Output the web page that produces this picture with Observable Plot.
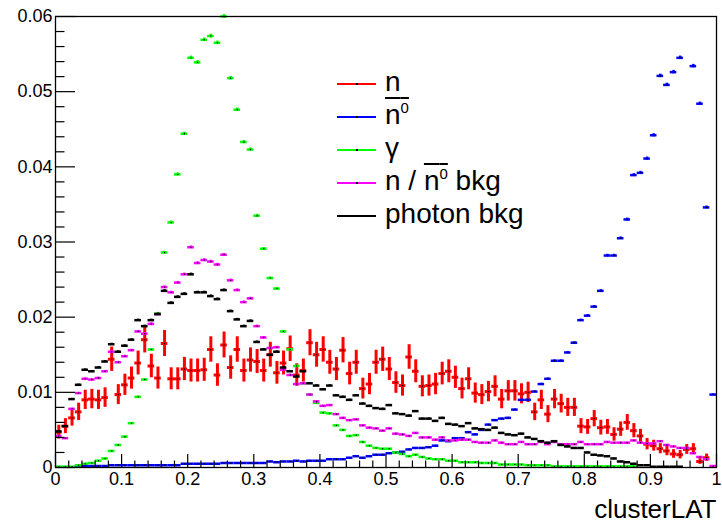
<!DOCTYPE html>
<html>
<head>
<meta charset="utf-8">
<script src="https://cdn.jsdelivr.net/npm/d3@7"></script>
<script src="https://cdn.jsdelivr.net/npm/@observablehq/plot@0.6"></script>
<style>
  body { margin: 0; background: #fff; font-family: "Liberation Sans", Arial, Helvetica, sans-serif; }
  #wrap { position: relative; width: 722px; height: 527px; }
  #legend { position: absolute; left: 337px; top: 67px; }
  .row { display: flex; align-items: center; height: 33px; }
  .sw { width: 39px; height: 2px; margin-right: 9px; position: relative; }
  .sw::after { content: ""; position: absolute; left: 19px; top: 0; width: 2px; height: 2px; background: #000; }
  .lab { font-size: 28px; line-height: 33px; color: #000; white-space: nowrap; position: relative; top: -2px; }
  .ov { text-decoration: overline; text-decoration-thickness: 2px; }
  .ov sup { font-size: 15px; line-height: 0; vertical-align: 11px; }
</style>
</head>
<body>
<div id="wrap">
  <div id="legend">
    <div class="row"><div class="sw" style="background:#ff0000"></div><span class="lab">n</span></div>
    <div class="row"><div class="sw" style="background:#0000ff"></div><span class="lab"><span class="ov">n<sup>0</sup></span></span></div>
    <div class="row"><div class="sw" style="background:#00ff00"></div><span class="lab">γ</span></div>
    <div class="row"><div class="sw" style="background:#ff00ff"></div><span class="lab">n / <span class="ov">n<sup>0</sup></span> bkg</span></div>
    <div class="row"><div class="sw" style="background:#000000"></div><span class="lab">photon bkg</span></div>
  </div>
</div>
<script>
// clusterLAT distributions, 100 bins on [0, 1], each normalised to unit area

const nBins = 100;

const neutron = [
  0.0047, 0.0055, 0.0066, 0.0074, 0.0090, 0.0091, 0.0090, 0.0093, 0.0144, 0.0097,
  0.0110, 0.0119, 0.0139, 0.0170, 0.0135, 0.0119, 0.0165, 0.0118, 0.0118, 0.0131,
  0.0129, 0.0129, 0.0130, 0.0157, 0.0123, 0.0163, 0.0133, 0.0157, 0.0129, 0.0143,
  0.0141, 0.0129, 0.0150, 0.0126, 0.0139, 0.0158, 0.0123, 0.0129, 0.0166, 0.0150,
  0.0157, 0.0140, 0.0131, 0.0156, 0.0125, 0.0140, 0.0105, 0.0111, 0.0140, 0.0144,
  0.0131, 0.0113, 0.0109, 0.0147, 0.0128, 0.0108, 0.0109, 0.0111, 0.0125, 0.0128,
  0.0120, 0.0105, 0.0118, 0.0099, 0.0097, 0.0101, 0.0108, 0.0091, 0.0102, 0.0102,
  0.0098, 0.0100, 0.0074, 0.0090, 0.0071, 0.0091, 0.0085, 0.0080, 0.0080, 0.0055,
  0.0054, 0.0065, 0.0053, 0.0054, 0.0044, 0.0051, 0.0060, 0.0049, 0.0042, 0.0031,
  0.0029, 0.0025, 0.0022, 0.0018, 0.0017, 0.0024, 0.0025, 0.0008, 0.0013, 0
];

const antineutron = [
  0.00005, 0.00005, 0.00005, 0.0002, 0.0002, 0.0002, 0.0002, 0.0002, 0.0003, 0.0003,
  0.0003, 0.0003, 0.0003, 0.0003, 0.0003, 0.0003, 0.0003, 0.0003, 0.0003, 0.0005,
  0.0005, 0.0005, 0.0005, 0.0005, 0.0005, 0.0006, 0.0006, 0.0006, 0.0006, 0.0006,
  0.0006, 0.0006, 0.0008, 0.0007, 0.0008, 0.0008, 0.0009, 0.0008, 0.0009, 0.0009,
  0.0009, 0.0011, 0.0011, 0.0011, 0.0013, 0.0015, 0.0013, 0.0015, 0.0017, 0.0017,
  0.0019, 0.0020, 0.0021, 0.0024, 0.0026, 0.0026, 0.0027, 0.0029, 0.0036, 0.0035,
  0.0039, 0.0039, 0.0047, 0.0044, 0.0050, 0.0057, 0.0063, 0.0065, 0.0066, 0.0077,
  0.0090, 0.0090, 0.0101, 0.0111, 0.0118, 0.0142, 0.0142, 0.0153, 0.0166, 0.0196,
  0.0202, 0.0214, 0.0235, 0.0282, 0.0282, 0.0305, 0.0330, 0.0389, 0.0392, 0.0411,
  0.0442, 0.0521, 0.0509, 0.0526, 0.0545, 0.0620, 0.0534, 0.0484, 0.0346, 0.0097
];

const photon = [
  0.0001, 0.0001, 0.0001, 0.0003, 0.0005, 0.0006, 0.0009, 0.0012, 0.0022, 0.0030,
  0.0041, 0.0059, 0.0094, 0.0117, 0.0157, 0.0205, 0.0286, 0.0326, 0.0390, 0.0444,
  0.0545, 0.0539, 0.0569, 0.0574, 0.0565, 0.0600, 0.0518, 0.0476, 0.0433, 0.0423,
  0.0335, 0.0291, 0.0252, 0.0238, 0.0181, 0.0157, 0.0135, 0.0112, 0.0097, 0.0086,
  0.0073, 0.0072, 0.0056, 0.0050, 0.0042, 0.0043, 0.0034, 0.0029, 0.0026, 0.0025,
  0.0025, 0.0020, 0.0018, 0.0015, 0.0017, 0.0014, 0.0012, 0.0011, 0.0011, 0.0009,
  0.0009, 0.0007, 0.0007, 0.0007, 0.0006, 0.0006, 0.0006, 0.0004, 0.0004, 0.0004,
  0.0004, 0.0003, 0.0003, 0.0003, 0.0003, 0.00015, 0.00015, 0.00015, 0.00015, 0.00015,
  0.00015, 0.00015, 0.00015, 0.00015, 0.00015, 0.00015, 0.00015, 0.00015, 0, 0,
  0, 0, 0, 0, 0, 0, 0, 0, 0, 0
];

const neutronBkg = [
  0.0042, 0.0039, 0.0078, 0.0099, 0.0118, 0.0117, 0.0119, 0.0128, 0.0154, 0.0140,
  0.0148, 0.0156, 0.0181, 0.0178, 0.0191, 0.0204, 0.0240, 0.0233, 0.0246, 0.0257,
  0.0293, 0.0272, 0.0276, 0.0274, 0.0270, 0.0283, 0.0249, 0.0236, 0.0220, 0.0225,
  0.0188, 0.0173, 0.0159, 0.0160, 0.0130, 0.0123, 0.0111, 0.0112, 0.0097, 0.0088,
  0.0082, 0.0083, 0.0071, 0.0066, 0.0063, 0.0064, 0.0056, 0.0053, 0.0052, 0.0049,
  0.0052, 0.0045, 0.0044, 0.0042, 0.0046, 0.0040, 0.0040, 0.0037, 0.0040, 0.0036,
  0.0036, 0.0037, 0.0037, 0.0034, 0.0033, 0.0033, 0.0036, 0.0033, 0.0031, 0.0031,
  0.0034, 0.0031, 0.0031, 0.0034, 0.0031, 0.0034, 0.0031, 0.0031, 0.0031, 0.0034,
  0.0031, 0.0031, 0.0031, 0.0034, 0.0033, 0.0033, 0.0033, 0.0036, 0.0033, 0.0032,
  0.0032, 0.0035, 0.0030, 0.0028, 0.0026, 0.0026, 0.0019, 0.0014, 0.0011, 0.0002
];

const photonBkg = [
  0.0048, 0.0055, 0.0091, 0.0110, 0.0130, 0.0128, 0.0133, 0.0141, 0.0164, 0.0154,
  0.0162, 0.0170, 0.0196, 0.0188, 0.0196, 0.0204, 0.0235, 0.0219, 0.0227, 0.0231,
  0.0257, 0.0233, 0.0233, 0.0228, 0.0224, 0.0236, 0.0208, 0.0197, 0.0188, 0.0195,
  0.0167, 0.0157, 0.0150, 0.0154, 0.0133, 0.0128, 0.0121, 0.0128, 0.0112, 0.0109,
  0.0104, 0.0109, 0.0096, 0.0094, 0.0090, 0.0096, 0.0085, 0.0082, 0.0079, 0.0078,
  0.0083, 0.0072, 0.0071, 0.0069, 0.0075, 0.0065, 0.0065, 0.0062, 0.0066, 0.0058,
  0.0057, 0.0055, 0.0059, 0.0052, 0.0051, 0.0050, 0.0053, 0.0046, 0.0044, 0.0043,
  0.0045, 0.0040, 0.0038, 0.0035, 0.0033, 0.0035, 0.0030, 0.0028, 0.0026, 0.0026,
  0.0020, 0.0017, 0.0016, 0.0015, 0.0012, 0.0008, 0.0007, 0.0005, 0.0003, 0.0003,
  0.0001, 0.0001, 0.0001, 0.0001, 0.0001, 0, 0, 0, 0, 0
];

// number of entries behind each normalised histogram (sets the Poisson error bars)
const entries = { neutron: 5500, antineutron: 1e6, photon: 1e6, neutronBkg: 1e6, photonBkg: 1e6 };

const xTicks = d3.range(11).map(i => i / 10);
const xMinorTicks = d3.range(51).map(i => i / 50).filter((d, i) => i % 5 !== 0);
const yTicks = d3.range(7).map(i => i / 100);
const yMinorTicks = d3.range(31).map(i => i / 500).filter((d, i) => i % 5 !== 0);

const W = 722, H = 527, mL = 55, mR = 6, mT = 16, mB = 60;
const innerW = W - mL - mR, innerH = H - mT - mB;

function binned(values, n) {
  return values.map((v, i) => ({
    lo: i / nBins, hi: (i + 1) / nBins, c: (i + 0.5) / nBins,
    v, e: Math.sqrt(v / n)
  })).filter(d => d.v > 0);
}

function histMarks(rows, color, lw, clip = false) {
  return [
    Plot.ruleY(rows, {y: "v", x1: "lo", x2: "hi", stroke: color, strokeWidth: lw, clip}),
    Plot.ruleX(rows, {x: "c", y1: d => d.v - d.e, y2: d => d.v + d.e, stroke: color, strokeWidth: lw, clip}),
    Plot.dot(rows, {x: "c", y: "v", r: 0.7, fill: "black", stroke: null, clip})
  ];
}

const fmt = d => d === 0 ? "0" : String(+d.toFixed(3));

const chart = Plot.plot({
  width: W, height: H,
  marginLeft: mL, marginRight: mR, marginTop: mT, marginBottom: mB,
  x: {domain: [0, 1]},
  y: {domain: [0, 0.06]},
  style: {fontFamily: "'Liberation Sans', Arial, Helvetica, sans-serif", color: "black", background: "white"},
  marks: [
    ...histMarks(binned(neutron, entries.neutron), "#ff0000", 3),
    ...histMarks(binned(antineutron, entries.antineutron), "#0000ff", 2.5, true),
    ...histMarks(binned(photon, entries.photon), "#00ff00", 2.5),
    ...histMarks(binned(neutronBkg, entries.neutronBkg), "#ff00ff", 2.5),
    ...histMarks(binned(photonBkg, entries.photonBkg), "#000000", 2.5),
    Plot.tickX(xTicks, {x: d => d, insetTop: innerH - 13, stroke: "black", strokeWidth: 1.2}),
    Plot.tickX(xMinorTicks, {x: d => d, insetTop: innerH - 6.5, stroke: "black", strokeWidth: 1.2}),
    Plot.tickY(yTicks, {y: d => d, insetRight: innerW - 20, stroke: "black", strokeWidth: 1.2}),
    Plot.tickY(yMinorTicks, {y: d => d, insetRight: innerW - 9.5, stroke: "black", strokeWidth: 1.2}),
    Plot.axisX(xTicks, {tickSize: 0, tickPadding: 5, tickFormat: fmt, fontSize: 18, label: null}),
    Plot.axisY(yTicks, {tickSize: 0, tickPadding: 3, tickFormat: fmt, fontSize: 18, label: null}),
    Plot.text(["clusterLAT"], {frameAnchor: "bottom-right", text: d => d, dy: 50, textAnchor: "end", fontSize: 26}),
    Plot.frame({stroke: "black", strokeWidth: 1.3})
  ]
});

document.getElementById("wrap").prepend(chart);
</script>
</body>
</html>
